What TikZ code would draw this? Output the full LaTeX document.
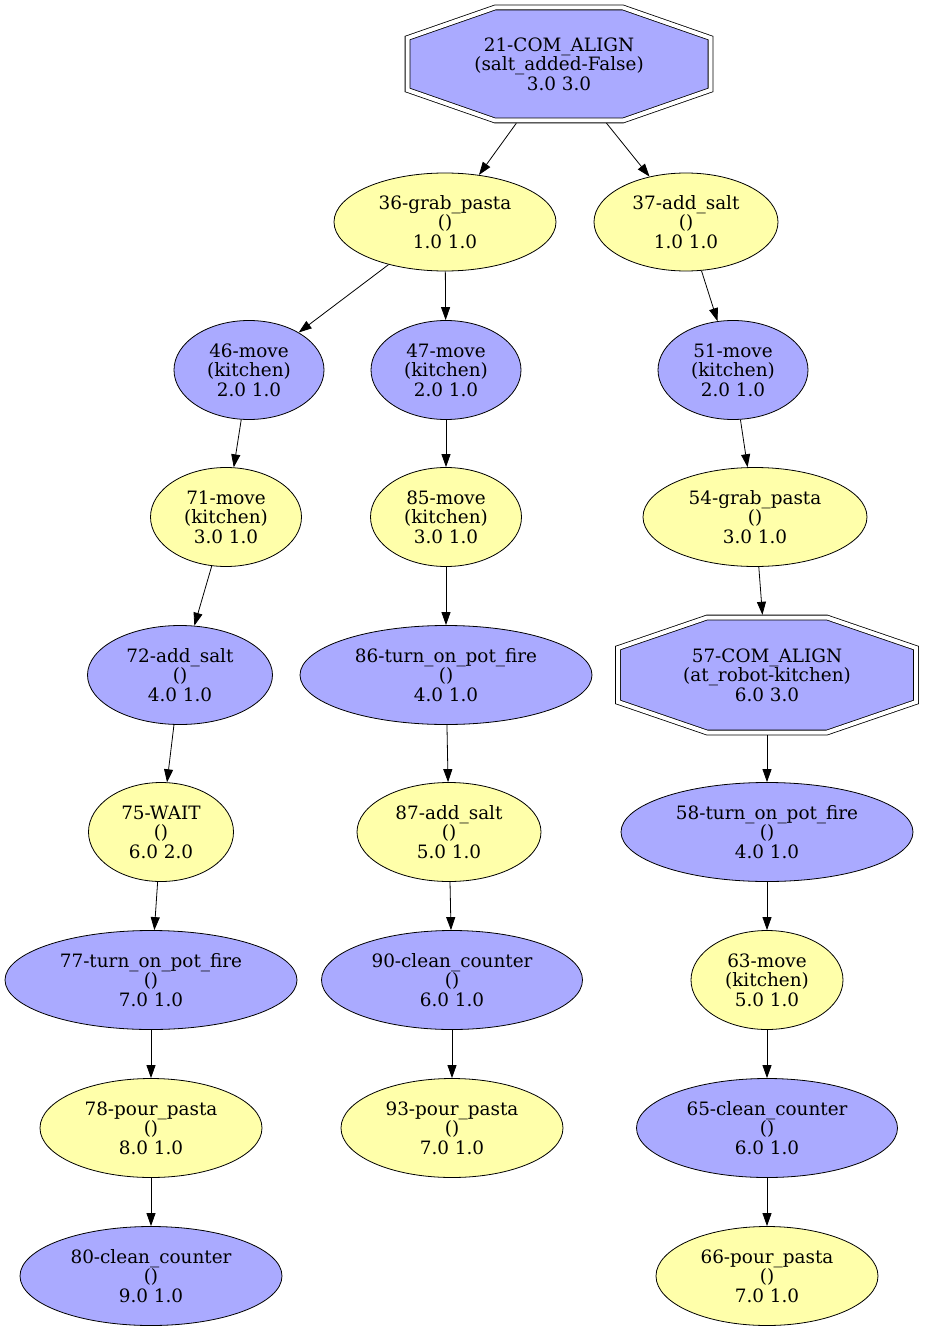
\documentclass[tikz,border=0pt]{standalone}
\usepackage{fontspec}
\usetikzlibrary{shapes.geometric,arrows.meta,calc,backgrounds}
\newfontfamily\nodefont{DejaVu Serif}
\definecolor{ylwfill}{HTML}{FFFFAA}
\definecolor{blufill}{HTML}{AAAAFF}

% double-bordered octagon drawn behind a named node:
% #1 node, #2 half width, #3 half side height, #4 half top width, #5 half height
\newcommand{\octoutline}[5]{%
  \begin{pgfonlayer}{background}
    \draw[octline] ($(#1)+(-#2,-#3)$) -- ($(#1)+(-#4,-#5)$) -- ($(#1)+(#4,-#5)$) --
      ($(#1)+(#2,-#3)$) -- ($(#1)+(#2,#3)$) -- ($(#1)+(#4,#5)$) --
      ($(#1)+(-#4,#5)$) -- ($(#1)+(-#2,#3)$) -- cycle;
  \end{pgfonlayer}}

\tikzset{
  lbl/.style={align=center, inner sep=0pt, font={\nodefont\fontsize{18.4}{19.5}\selectfont}},
  task/.style={lbl, ellipse, draw, line width=0.8pt},
  ylw/.style={task, fill=ylwfill},
  blu/.style={task, fill=blufill},
  sz/.style 2 args={minimum width=#1pt, minimum height=#2pt},
  octnode/.style={lbl, rectangle},
  octline/.style={draw=black, line width=0.8pt, double=white, double distance=4pt, fill=blufill},
  edge/.style={draw, line width=0.8pt, -{Triangle[length=13pt,width=9pt]}}
}

\begin{document}
\begin{tikzpicture}[x=1pt, y=-1pt]
\useasboundingbox (0,0) rectangle (924,1332);

% rank 0
\node[octnode, sz={308}{118}] (n21) at (559,64) {21-COM\_ALIGN\\(salt\_added-False)\\3.0 3.0};
\octoutline{n21}{151.5}{26}{64}{56.5}

% rank 1
\node[ylw, sz={222}{98}] (n36) at (445,222) {36-grab\_pasta\\()\\1.0 1.0};
\node[ylw, sz={184}{98}] (n37) at (686,222) {37-add\_salt\\()\\1.0 1.0};

% rank 2
\node[blu, sz={150}{99}] (n46) at (249,370) {46-move\\(kitchen)\\2.0 1.0};
\node[blu, sz={150}{99}] (n47) at (446,370) {47-move\\(kitchen)\\2.0 1.0};
\node[blu, sz={150}{99}] (n51) at (733,370) {51-move\\(kitchen)\\2.0 1.0};

% rank 3
\node[ylw, sz={151}{99}] (n71) at (226,517) {71-move\\(kitchen)\\3.0 1.0};
\node[ylw, sz={151}{99}] (n85) at (446,517) {85-move\\(kitchen)\\3.0 1.0};
\node[ylw, sz={224}{99}] (n54) at (755,517) {54-grab\_pasta\\()\\3.0 1.0};

% rank 4
\node[blu, sz={185}{99}] (n72) at (180,675) {72-add\_salt\\()\\4.0 1.0};
\node[blu, sz={292}{99}] (n86) at (446,675) {86-turn\_on\_pot\_fire\\()\\4.0 1.0};
\node[octnode, sz={303}{120}] (n57) at (767,675) {57-COM\_ALIGN\\(at\_robot-kitchen)\\6.0 3.0};
\octoutline{n57}{149}{27}{60}{57.5}

% rank 5
\node[ylw, sz={145}{99}] (n75) at (161,832) {75-WAIT\\()\\6.0 2.0};
\node[ylw, sz={184}{99}] (n87) at (449,832) {87-add\_salt\\()\\5.0 1.0};
\node[blu, sz={292}{99}] (n58) at (767,832) {58-turn\_on\_pot\_fire\\()\\4.0 1.0};

% rank 6
\node[blu, sz={292}{99}] (n77) at (151,980) {77-turn\_on\_pot\_fire\\()\\7.0 1.0};
\node[blu, sz={261}{99}] (n90) at (452,980) {90-clean\_counter\\()\\6.0 1.0};
\node[ylw, sz={152}{99}] (n63) at (767,980) {63-move\\(kitchen)\\5.0 1.0};

% rank 7
\node[ylw, sz={222}{99}] (n78) at (151,1128) {78-pour\_pasta\\()\\8.0 1.0};
\node[ylw, sz={222}{99}] (n93) at (452,1128) {93-pour\_pasta\\()\\7.0 1.0};
\node[blu, sz={261}{99}] (n65) at (767,1128) {65-clean\_counter\\()\\6.0 1.0};

% rank 8
\node[blu, sz={262}{99}] (n80) at (151,1276) {80-clean\_counter\\()\\9.0 1.0};
\node[ylw, sz={222}{99}] (n66) at (767,1276) {66-pour\_pasta\\()\\7.0 1.0};

% edges
\draw[edge] (n21) -- (n36);
\draw[edge] (n21) -- (n37);
\draw[edge] (n36) -- (n46);
\draw[edge] (n36) -- (n47);
\draw[edge] (n37) -- (n51);
\draw[edge] (n46) -- (n71);
\draw[edge] (n47) -- (n85);
\draw[edge] (n51) -- (n54);
\draw[edge] (n71) -- (n72);
\draw[edge] (n85) -- (n86);
\draw[edge] (n54) -- (n57);
\draw[edge] (n72) -- (n75);
\draw[edge] (n86) -- (n87);
\draw[edge] (n57) -- (n58);
\draw[edge] (n75) -- (n77);
\draw[edge] (n87) -- (n90);
\draw[edge] (n58) -- (n63);
\draw[edge] (n77) -- (n78);
\draw[edge] (n90) -- (n93);
\draw[edge] (n63) -- (n65);
\draw[edge] (n78) -- (n80);
\draw[edge] (n65) -- (n66);
\end{tikzpicture}
\end{document}
